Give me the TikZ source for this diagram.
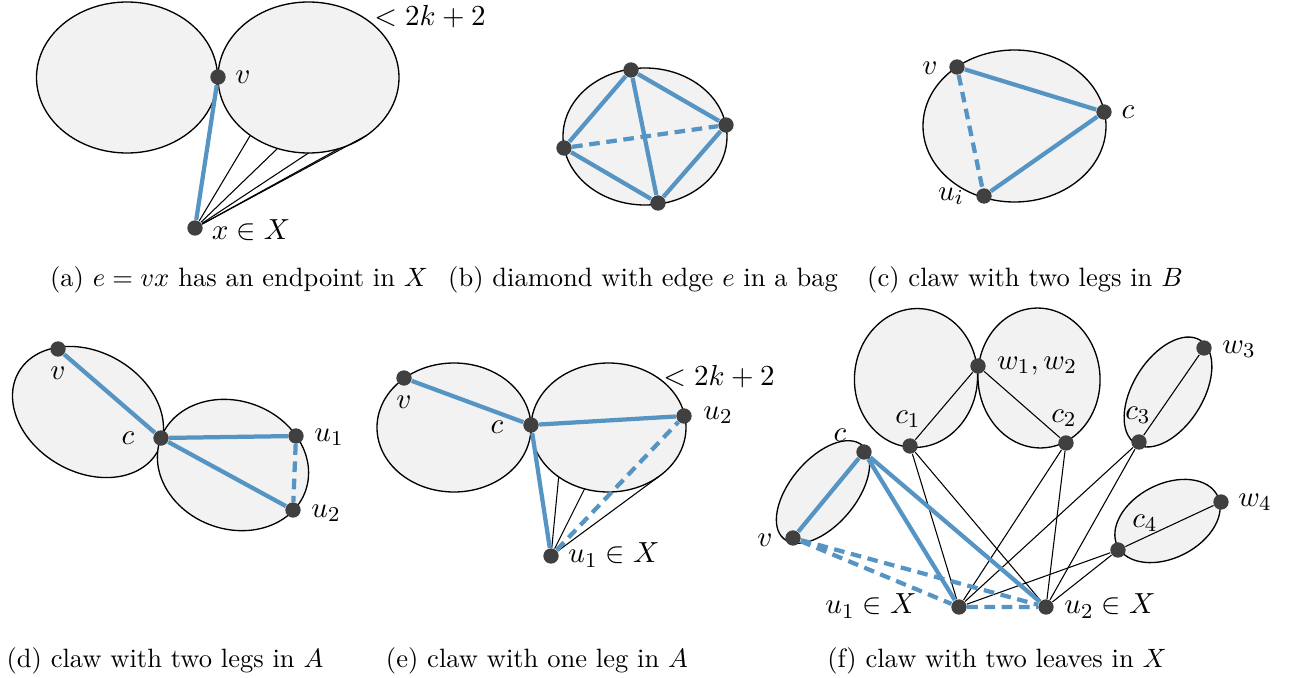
\documentclass[tikz,border=0pt]{standalone}
\usepackage{amsmath}
\usepackage{amssymb}
\usetikzlibrary{calc}
\definecolor{edgeblue}{RGB}{86,148,196}

\begin{document}
\begin{tikzpicture}[
  x=0.377pt, y=-0.377pt,
  vtx/.style    = {circle, fill=black!75, inner sep=0pt, minimum size=5.8pt},
  bag/.style    = {draw=black, fill=black!5, line width=0.5pt},
  lbl/.style    = {inner sep=0pt, font=\fontsize{10.8}{13}\selectfont},
  subcap/.style = {inner sep=0pt},
  sol/.style    = {draw=edgeblue, line width=1.6pt},
  dsh/.style    = {sol, dash pattern=on 4pt off 2.5pt},
  thn/.style    = {draw=black, line width=0.4pt},
]
\useasboundingbox (0,0) rectangle (1289,678);

% ── (a) endpoint in X ─────────────────────────────────────────────────────────
\coordinate (aL) at (127,77.5);
\coordinate (aR) at (308.5,77.5);
\draw[bag] (aL) ellipse [x radius=90.5, y radius=75.5];
\draw[bag] (aR) ellipse [x radius=90.5, y radius=75.5];

\node[vtx] (av) at (218,77)  {};
\node[vtx] (ax) at (195,228) {};
\node[lbl] (av-l) at (243,77)  {$v$};
\node[lbl] (ax-l) at (251,230) {$x \in X$};
\node[lbl] (aR-l) at (430,17)  {$< 2k+2$};

\foreach \a [count=\i] in {130,110,90,70,50}
  \coordinate (ap\i) at ($(aR)+(\a:90.5 and 75.5)$);
\foreach \i in {1,...,5}
  \draw[thn] (ax) -- (ap\i);
\draw[sol] (ax) -- (av);

\node[subcap] (a-cap) at (239,280) {(a) $e = vx$ has an endpoint in $X$};

% ── (b) diamond ───────────────────────────────────────────────────────────────
\coordinate (bB) at (645,136.5);
\draw[bag] (bB) ellipse [x radius=82, y radius=68.5];

\node[vtx] (bt) at (631,70)  {};
\node[vtx] (br) at (726,125) {};
\node[vtx] (bl) at (564,148) {};
\node[vtx] (bb) at (658,203) {};

\draw[sol] (bt) -- (bl) (bt) -- (br) (bt) -- (bb) (bl) -- (bb) (br) -- (bb);
\draw[dsh] (bl) -- (br);

\node[subcap] (b-cap) at (643,280) {(b) diamond with edge $e$ in a bag};

% ── (c) two legs in B ─────────────────────────────────────────────────────────
\coordinate (cB) at (1014.5,126);
\draw[bag] (cB) ellipse [x radius=91.5, y radius=76];

\node[vtx] (cv) at (957,67)   {};
\node[vtx] (cc) at (1104,112) {};
\node[vtx] (cu) at (984,196)  {};
\node[lbl] (cv-l) at (930,68)   {$v$};
\node[lbl] (cc-l) at (1128,112) {$c$};
\node[lbl] (cu-l) at (951,196)  {$u_i$};

\draw[sol] (cv) -- (cc) -- (cu);
\draw[dsh] (cv) -- (cu);

\node[subcap] (c-cap) at (1025,280) {(c) claw with two legs in $B$};

% ── (d) two legs in A ─────────────────────────────────────────────────────────
\coordinate (dL) at (88,412);
\coordinate (dR) at (233,465);
\draw[bag, rotate around={-30:(dL)}] (dL) ellipse [x radius=80, y radius=60];
\draw[bag, rotate around={-20:(dR)}] (dR) ellipse [x radius=77, y radius=64];

\node[vtx] (dv)  at (58,349)  {};
\node[vtx] (dc)  at (161,438) {};
\node[vtx] (du1) at (296,436) {};
\node[vtx] (du2) at (293,510) {};
\node[lbl] (dv-l)  at (58,373)  {$v$};
\node[lbl] (dc-l)  at (128,438) {$c$};
\node[lbl] (du1-l) at (329,437) {$u_1$};
\node[lbl] (du2-l) at (326,513) {$u_2$};

\draw[sol] (dv) -- (dc) (dc) -- (du1) (dc) -- (du2);
\draw[dsh] (du1) -- (du2);

\node[subcap] (d-cap) at (165,661) {(d) claw with two legs in $A$};

% ── (e) one leg in A ──────────────────────────────────────────────────────────
\coordinate (eL) at (454,427.5);
\coordinate (eR) at (608.5,427.5);
\draw[bag] (eL) ellipse [x radius=77, y radius=64.5];
\draw[bag] (eR) ellipse [x radius=77.5, y radius=64.5];

\node[vtx] (ev)  at (404,378) {};
\node[vtx] (ec)  at (531,425) {};
\node[vtx] (eu2) at (684,416) {};
\node[vtx] (eu1) at (551,556) {};
\node[lbl] (ev-l)  at (404,402) {$v$};
\node[lbl] (ec-l)  at (497,427) {$c$};
\node[lbl] (eu2-l) at (718,415) {$u_2$};
\node[lbl] (eu1-l) at (614,555) {$u_1 \in X$};
\node[lbl] (eR-l)  at (719,377) {$< 2k+2$};

\foreach \a [count=\i] in {130,108,50}
  \coordinate (ep\i) at ($(eR)+(\a:77.5 and 64.5)$);
\foreach \i in {1,...,3}
  \draw[thn] (eu1) -- (ep\i);
\draw[sol] (ev) -- (ec) (ec) -- (eu2) (ec) -- (eu1);
\draw[dsh] (eu1) -- (eu2);

\node[subcap] (e-cap) at (537,661) {(e) claw with one leg in $A$};

% ── (f) two leaves in X ───────────────────────────────────────────────────────
\draw[bag, rotate around={50:(823,492)}]   (823,492)    ellipse [x radius=61, y radius=33];
\draw[bag, rotate around={-5:(916,378)}]   (916,378)    ellipse [x radius=61.5, y radius=69.5];
\draw[bag, rotate around={5:(1039,378)}]   (1039,378)   ellipse [x radius=61, y radius=70];
\draw[bag, rotate around={58:(1168,392)}]  (1168,392)   ellipse [x radius=61, y radius=35];
\draw[bag, rotate around={27:(1167.5,521)}] (1167.5,521) ellipse [x radius=56, y radius=37];

\node[vtx] (fc)  at (864,452)  {};
\node[vtx] (fv)  at (793,538)  {};
\node[vtx] (fc1) at (910,446)  {};
\node[vtx] (fw)  at (978,366)  {};
\node[vtx] (fc2) at (1066,443) {};
\node[vtx] (fc3) at (1139,442) {};
\node[vtx] (fw3) at (1204,348) {};
\node[vtx] (fc4) at (1118,550) {};
\node[vtx] (fw4) at (1221,502) {};
\node[vtx] (fu1) at (959,607)  {};
\node[vtx] (fu2) at (1046,607) {};

\node[lbl] (fc-l)  at (840,435)  {$c$};
\node[lbl] (fv-l)  at (765,540)  {$v$};
\node[lbl] (fc1-l) at (908,419)  {$c_1$};
\node[lbl] (fw-l)  at (1037,366) {$w_1, w_2$};
\node[lbl] (fc2-l) at (1064,418) {$c_2$};
\node[lbl] (fc3-l) at (1138,415) {$c_3$};
\node[lbl] (fw3-l) at (1239,349) {$w_3$};
\node[lbl] (fc4-l) at (1145,523) {$c_4$};
\node[lbl] (fw4-l) at (1255,502) {$w_4$};
\node[lbl] (fu1-l) at (871,606)  {$u_1 \in X$};
\node[lbl] (fu2-l) at (1110,606) {$u_2 \in X$};

\draw[thn] (fc1) -- (fw) -- (fc2) (fc3) -- (fw3) (fc4) -- (fw4);
\foreach \k in {1,...,4}
  \draw[thn] (fc\k) -- (fu1) (fc\k) -- (fu2);
\draw[sol] (fv) -- (fc) (fc) -- (fu1) (fc) -- (fu2);
\draw[dsh] (fv) -- (fu1) (fv) -- (fu2) (fu1) -- (fu2);

\node[subcap] (f-cap) at (997,661) {(f) claw with two leaves in $X$};

\end{tikzpicture}
\end{document}
